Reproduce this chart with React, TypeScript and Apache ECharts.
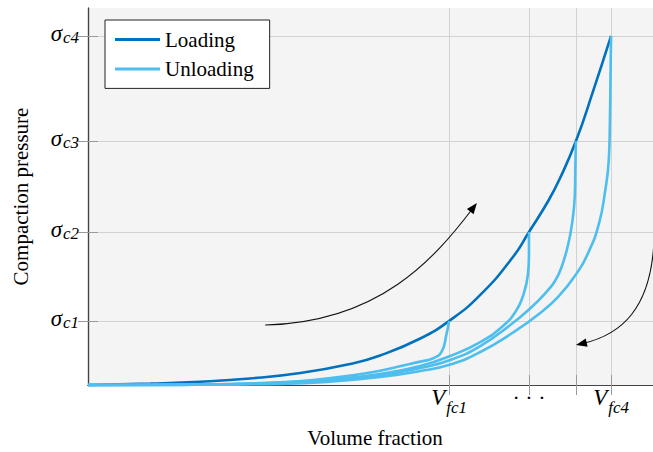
import React, { useEffect, useRef } from 'react';
import * as echarts from 'echarts';

const SERIF = "'Liberation Serif', 'Times New Roman', serif";
const LOADING_COLOR = '#0072BD';
const UNLOADING_COLOR = '#4DBEEE';

// tick positions (normalised units) and their labels
const sigmaLevels = [0.17, 0.406, 0.647, 0.926];
const sigmaSubs = ['c1', 'c2', 'c3', 'c4'];
const vfLevels = [0.638, 0.779, 0.862, 0.924];
const vfSubs = ['fc1', '...', '', 'fc4'];

// loading curve [volume fraction, pressure]
const loading: number[][] = [
  [0, 0], [0.11, 0.0037], [0.198, 0.0085], [0.286, 0.0172], [0.375, 0.0318],
  [0.463, 0.0557], [0.516, 0.0782], [0.587, 0.1233], [0.638, 0.17],
  [0.693, 0.239], [0.751, 0.34], [0.779, 0.406], [0.813, 0.488],
  [0.834, 0.549], [0.862, 0.647], [0.892, 0.778], [0.924, 0.926],
];

// unloading curves
const unloading1: number[][] = [
  [0, 0], [0.11, 0.0], [0.233, 0.002], [0.339, 0.007], [0.398, 0.013],
  [0.463, 0.025], [0.516, 0.038], [0.551, 0.05], [0.587, 0.062],
  [0.61, 0.071], [0.625, 0.089], [0.633, 0.133], [0.638, 0.17],
];
const unloading2: number[][] = [
  [0, 0], [0.198, 0.001], [0.339, 0.006], [0.428, 0.015], [0.516, 0.0292],
  [0.587, 0.0504], [0.64, 0.0769], [0.693, 0.114], [0.733, 0.1565],
  [0.756, 0.1963], [0.769, 0.2387], [0.777, 0.2918], [0.779, 0.3448], [0.779, 0.406],
];
const unloading3: number[][] = [
  [0, 0], [0.198, 0.001], [0.339, 0.005], [0.428, 0.012], [0.516, 0.0252],
  [0.587, 0.045], [0.64, 0.0663], [0.693, 0.1034], [0.746, 0.159],
  [0.781, 0.2029], [0.813, 0.252], [0.825, 0.2759], [0.836, 0.3103],
  [0.848, 0.3714], [0.856, 0.4377], [0.86, 0.504], [0.861, 0.5836], [0.862, 0.647],
];
const unloading4: number[][] = [
  [0, 0], [0.198, 0.001], [0.339, 0.003], [0.428, 0.009], [0.516, 0.0212],
  [0.587, 0.0371], [0.64, 0.0544], [0.693, 0.0875], [0.751, 0.1393],
  [0.799, 0.191], [0.83, 0.233], [0.86, 0.289], [0.885, 0.355],
  [0.903, 0.43], [0.913, 0.509], [0.92, 0.597], [0.922, 0.703],
  [0.923, 0.809], [0.924, 0.926],
];

// annotation arrows (data coordinates): start, control 1, control 2, tip
const arrowUp: number[][] = [[0.313, 0.159], [0.516, 0.167], [0.613, 0.337], [0.687, 0.483]];
const arrowDown: number[][] = [[1.0, 0.39], [0.996, 0.199], [0.94, 0.133], [0.862, 0.106]];

const nearest = (arr: number[], v: number) => {
  let best = 0;
  arr.forEach((a, i) => { if (Math.abs(a - v) < Math.abs(arr[best] - v)) best = i; });
  return best;
};

export default function App() {
  const ref = useRef<HTMLDivElement>(null);
  useEffect(() => {
    if (!ref.current) return;
    const chart = echarts.init(ref.current, undefined, { renderer: 'svg' });
    const unloadSeries = [unloading1, unloading2, unloading3, unloading4].map((d) => ({
      name: 'Unloading',
      type: 'line',
      data: d,
      symbol: 'none',
      smooth: 0.5,
      clip: false,
      z: 4,
      lineStyle: { color: UNLOADING_COLOR, width: 2.6 },
      itemStyle: { color: UNLOADING_COLOR },
    }));
    const tickCommon = { show: true, inside: true, length: 10, lineStyle: { color: '#999', width: 1 } };
    const option: any = {
      animation: false,
      backgroundColor: '#fff',
      grid: {
        left: 88, top: 8, width: 574, height: 377,
        show: true, backgroundColor: '#f4f4f4', borderWidth: 0,
        containLabel: false, outerBoundsMode: 'none',
      },
      legend: {
        data: [
          { name: 'Loading', icon: 'rect' },
          { name: 'Unloading', icon: 'rect' },
        ],
        orient: 'vertical',
        left: 105,
        top: 20,
        padding: [9, 16, 9, 10],
        itemGap: 8.4,
        itemWidth: 45,
        itemHeight: 3,
        backgroundColor: '#fff',
        borderColor: '#222',
        borderWidth: 1,
        borderRadius: 0,
        selectedMode: false,
        textStyle: { fontFamily: SERIF, fontSize: 21, color: '#000' },
      },
      xAxis: [
        {
          type: 'value', min: 0, max: 1.014, position: 'bottom',
          name: 'Volume fraction', nameLocation: 'middle', nameGap: 42,
          nameTextStyle: { fontFamily: SERIF, fontSize: 21, color: '#000' },
          axisLine: { show: true, lineStyle: { color: '#444', width: 1.2 } },
          axisTick: { ...tickCommon, customValues: vfLevels },
          splitLine: { show: true, lineStyle: { color: '#d2d2d2', width: 1 } },
          axisLabel: {
            customValues: vfLevels,
            margin: 1,
            formatter: (v: number) => {
              const i = nearest(vfLevels, v);
              const s = vfSubs[i];
              if (!s) return '';
              if (s === '...') return '{d|· · ·}';
              return `{v|V}{sub|${s}}`;
            },
            rich: {
              v: { fontFamily: SERIF, fontStyle: 'italic', fontSize: 23, lineHeight: 23, verticalAlign: 'top', color: '#000' },
              sub: { fontFamily: SERIF, fontStyle: 'italic', fontSize: 17, lineHeight: 17, padding: [12.5, 0, 0, 1], verticalAlign: 'top', color: '#000' },
              d: { fontFamily: SERIF, fontSize: 22, lineHeight: 14, verticalAlign: 'top', color: '#000' },
            },
          },
        },
        {
          type: 'value', min: 0, max: 1.014, position: 'top',
          axisLine: { show: true, lineStyle: { color: '#444', width: 1.2 } },
          axisTick: { ...tickCommon, customValues: vfLevels },
          axisLabel: { show: false },
          splitLine: { show: false },
        },
      ],
      yAxis: [
        {
          type: 'value', min: 0, max: 1, position: 'left',
          name: 'Compaction pressure', nameLocation: 'middle', nameGap: 57,
          nameTextStyle: { fontFamily: SERIF, fontSize: 21, color: '#000' },
          axisLine: { show: true, lineStyle: { color: '#444', width: 1.2 } },
          axisTick: { ...tickCommon, customValues: sigmaLevels },
          splitLine: { show: true, lineStyle: { color: '#d2d2d2', width: 1 } },
          axisLabel: {
            customValues: sigmaLevels,
            margin: 9,
            padding: [0, 0, 6, 0],
            formatter: (v: number) => `{s|σ}{sub|${sigmaSubs[nearest(sigmaLevels, v)]}}`,
            rich: {
              s: { fontFamily: SERIF, fontStyle: 'italic', fontSize: 23, lineHeight: 22, verticalAlign: 'top', color: '#000' },
              sub: { fontFamily: SERIF, fontStyle: 'italic', fontSize: 17, lineHeight: 16, padding: [7.4, 0, 0, 1], verticalAlign: 'top', color: '#000' },
            },
          },
        },
        {
          type: 'value', min: 0, max: 1, position: 'right',
          axisLine: { show: true, lineStyle: { color: '#444', width: 1.2 } },
          axisTick: { ...tickCommon, customValues: sigmaLevels },
          axisLabel: { show: false },
          splitLine: { show: false },
        },
      ],
      series: [
        {
          name: 'Loading',
          type: 'line',
          data: loading,
          symbol: 'none',
          smooth: 0.5,
          clip: false,
          z: 3,
          lineStyle: { color: LOADING_COLOR, width: 2.6 },
          itemStyle: { color: LOADING_COLOR },
        },
        ...unloadSeries,
      ],
    };
    chart.setOption(option);

    const toPx = (p: number[]) => chart.convertToPixel({ xAxisIndex: 0, yAxisIndex: 0 }, p) as number[];
    const makeArrow = (pts: number[][]) => {
      const [p0, c1, c2, tip] = pts.map(toPx);
      const dx = tip[0] - c2[0];
      const dy = tip[1] - c2[1];
      const len = Math.hypot(dx, dy) || 1;
      const ux = dx / len, uy = dy / len;
      const headLen = 11, half = 4.2;
      const base = [tip[0] - ux * headLen, tip[1] - uy * headLen];
      const end = [tip[0] - ux * 7, tip[1] - uy * 7];
      return [
        {
          type: 'bezierCurve', silent: true, z: 100,
          shape: { x1: p0[0], y1: p0[1], cpx1: c1[0], cpy1: c1[1], cpx2: c2[0], cpy2: c2[1], x2: end[0], y2: end[1] },
          style: { stroke: '#111', lineWidth: 1.1, fill: null },
        },
        {
          type: 'polygon', silent: true, z: 101,
          shape: {
            points: [
              tip,
              [base[0] - uy * half, base[1] + ux * half],
              [base[0] + uy * half, base[1] - ux * half],
            ],
          },
          style: { fill: '#000' },
        },
      ];
    };
    chart.setOption({ graphic: [...makeArrow(arrowUp), ...makeArrow(arrowDown)] });

    return () => chart.dispose();
  }, []);
  return <div ref={ref} style={{ position: 'fixed', left: 0, top: 0, width: 653, height: 452 }} />;
}
